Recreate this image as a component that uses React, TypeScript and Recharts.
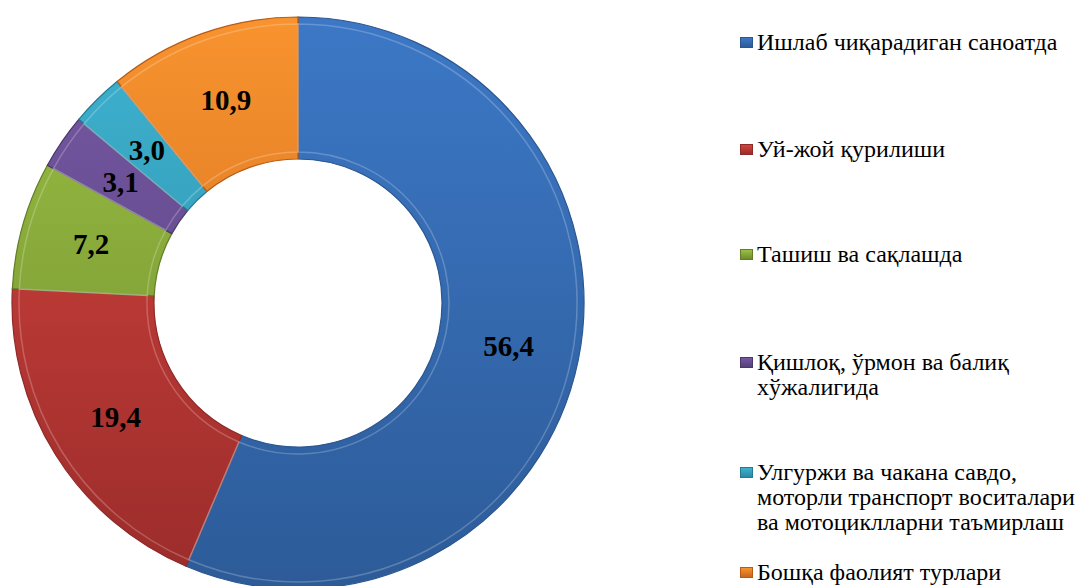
import React from "react";
import { PieChart, Pie, Cell, Legend } from "recharts";

const categories: string[][] = [
  ["Ишлаб чиқарадиган саноатда"],
  ["Уй-жой қурилиши"],
  ["Ташиш ва сақлашда"],
  ["Қишлоқ, ўрмон ва балиқ", "хўжалигида"],
  ["Улгуржи ва чакана савдо,", "моторли транспорт воситалари", "ва мотоциклларни таъмирлаш"],
  ["Бошқа фаолият турлари"],
];
const values: number[] = [56.4, 19.4, 7.2, 3.1, 3.0, 10.9];
const valueLabels: string[] = ["56,4", "19,4", "7,2", "3,1", "3,0", "10,9"];

const topColors = ["#3C78C6", "#D6443F", "#9BC045", "#7658A4", "#3EB2D0", "#F8932F"];
const bottomColors = ["#2D5B98", "#9A2C2A", "#6E8B2C", "#54407A", "#2A8AA3", "#C9661A"];
const strokeColors = ["#2B568F", "#8E2A28", "#627C27", "#4A386B", "#257A91", "#B65C17"];
const legendTops = [30, 137, 242, 350, 460, 560];

const data = categories.map((c, i) => ({ name: c.join(" "), value: values[i], label: valueLabels[i] }));

const FONT = "'Liberation Serif', 'Times New Roman', serif";
const RAD = Math.PI / 180;
const renderLabel = (props: any) => {
  const { cx, cy, midAngle, innerRadius, outerRadius, index } = props;
  const r = (innerRadius + outerRadius) / 2;
  const x = cx + r * Math.cos(-midAngle * RAD);
  const y = cy + r * Math.sin(-midAngle * RAD);
  return (
    <text
      x={x}
      y={y}
      textAnchor="middle"
      dominantBaseline="central"
      style={{ fontFamily: FONT, fontWeight: "bold", fontSize: 29 }}
      fill="#000"
    >
      {valueLabels[index]}
    </text>
  );
};

const renderLegend = () => (
  <div style={{ position: "relative", width: 339, height: 586 }}>
    {categories.map((lines, i) => (
      <div
        key={i}
        style={{
          position: "absolute",
          left: 0,
          top: legendTops[i],
          fontFamily: FONT,
          fontSize: 24,
          lineHeight: "25px",
          color: "#000",
          whiteSpace: "nowrap",
        }}
      >
        <span
          style={{
            position: "absolute",
            left: 2,
            top: 7,
            width: 13,
            height: 11,
            boxSizing: "border-box",
            background: `linear-gradient(${topColors[i]}, ${bottomColors[i]})`,
            border: `1px solid ${strokeColors[i]}`,
          }}
        />
        <div style={{ paddingLeft: 19 }}>
          {lines.map((l, j) => (
            <div key={j}>{l}</div>
          ))}
        </div>
      </div>
    ))}
  </div>
);

export default function App() {
  return (
    <div style={{ position: "absolute", left: 0, top: 0, width: 1077, height: 586, background: "#fff" }}>
      <PieChart width={1077} height={586} margin={{ top: 0, right: 0, bottom: 0, left: 0 }}>
        <defs>
          {topColors.map((c, i) => (
            <linearGradient key={i} id={`g${i}`} gradientUnits="userSpaceOnUse" x1="0" y1="17" x2="0" y2="589">
              <stop offset="0" stopColor={c} />
              <stop offset="1" stopColor={bottomColors[i]} />
            </linearGradient>
          ))}
        </defs>
        <Pie
          data={data}
          dataKey="value"
          nameKey="name"
          cx={298}
          cy={303}
          innerRadius={144}
          outerRadius={286}
          startAngle={90}
          endAngle={-270}
          label={renderLabel}
          labelLine={false}
          isAnimationActive={false}
        >
          {data.map((_, i) => (
            <Cell key={i} fill={`url(#g${i})`} stroke={strokeColors[i]} strokeWidth={1.2} />
          ))}
        </Pie>
        <Pie
          data={data}
          dataKey="value"
          cx={298}
          cy={303}
          innerRadius={151}
          outerRadius={279}
          startAngle={90}
          endAngle={-270}
          isAnimationActive={false}
          legendType="none"
        >
          {data.map((_, i) => (
            <Cell key={i} fill="none" stroke="rgba(255,255,255,0.22)" strokeWidth={1.5} />
          ))}
        </Pie>
        <Legend
          layout="vertical"
          align="right"
          verticalAlign="top"
          content={renderLegend}
          wrapperStyle={{ position: "absolute", left: 738, top: 0, width: 339, height: 586 }}
        />
      </PieChart>
    </div>
  );
}
